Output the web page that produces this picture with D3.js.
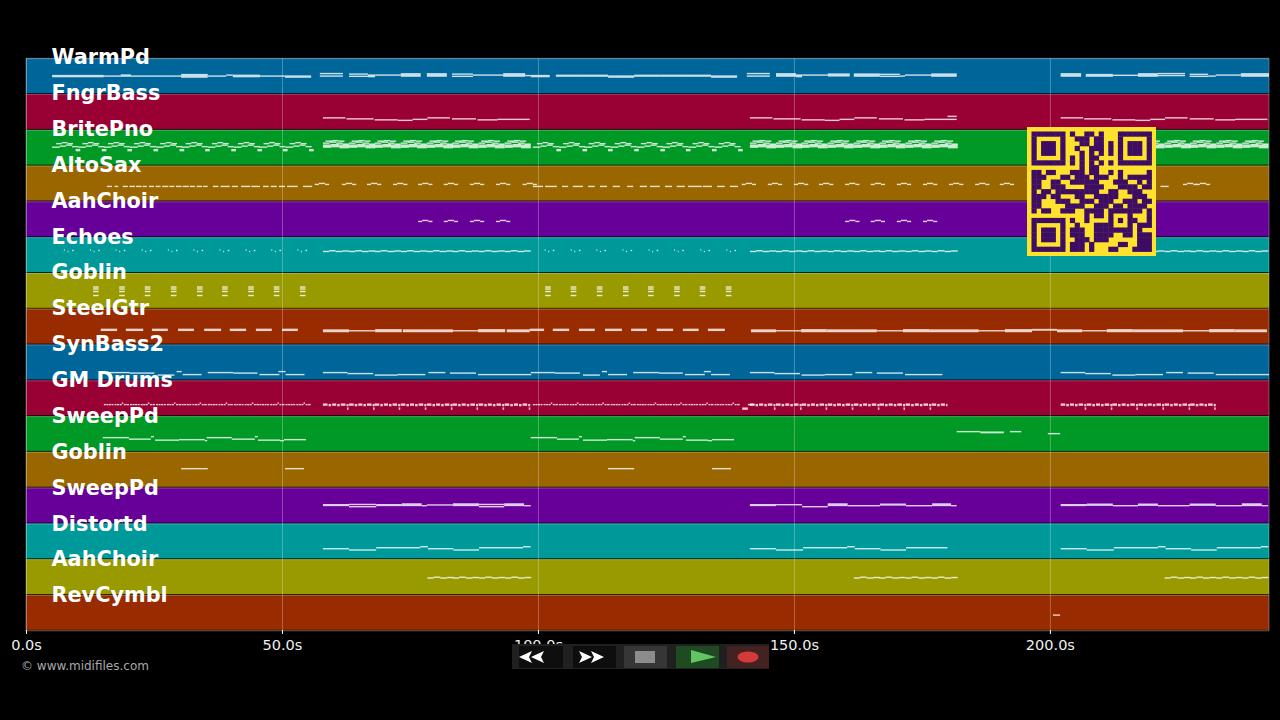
<!DOCTYPE html>
<html>
<head>
<meta charset="utf-8">
<script src="https://cdn.jsdelivr.net/npm/d3@7"></script>
<style>
	html, body { margin: 0; background: #000; overflow: hidden; }
	text { font-family: "DejaVu Sans", sans-serif; }
</style>
</head>
<body>
<svg id="chart" width="1280" height="720"></svg>
<script type="text/javascript">

var trackNames = ['WarmPd', 'FngrBass', 'BritePno', 'AltoSax', 'AahChoir', 'Echoes', 'Goblin', 'SteelGtr',
	'SynBass2', 'GM Drums', 'SweepPd', 'Goblin', 'SweepPd', 'Distortd', 'AahChoir', 'RevCymbl']
var bandColors = ['#006699', '#990033', '#009926', '#996600', '#660099', '#009999', '#999900', '#992b00']
var tickValues = [0, 50, 100, 150, 200]
var tickLabels = ['0.0s', '50.0s', '100.0s', '150.0s', '200.0s']
var endTime = 242.8

// bar starts in seconds, one list per section of the song
var bars5 = [5.1, 10.2, 15.2, 20.3, 25.4, 30.4, 35.5, 40.6, 45.6, 50.7]
var bars58 = [58, 63.1, 68.1, 73.2, 78.3, 83.3, 88.4, 93.5]
var bars99 = [99, 104.1, 109.1, 114.2, 119.3, 124.3, 129.4, 134.5]
var bars141 = [141.4, 146.5, 151.5, 156.6, 161.7, 166.7, 171.8, 176.9]
var bars202 = [202.1, 207.2, 212.2, 217.3, 222.4, 227.4, 232.5, 237.6]

// a note is [start, end, low pitch, high pitch]; pitch counts up from the bottom of the band
var warmPd = [
	[5.1, 15.2, 17.5, 18.5], [15.2, 25.4, 18], [18.5, 20.5, 19], [25.4, 30.3, 18], [30.3, 35.5, 17, 19.5], [35.5, 39.1, 18],
	[39.1, 40.4, 19], [40.4, 45.7, 17.5, 18.75], [45.7, 50.6, 18], [50.6, 55.7, 17, 18],
	[57.4, 61.9, 18], [57.4, 61.9, 20.5], [63.1, 66.8, 17.75], [63.1, 66.8, 20], [66.8, 68.2, 17.5, 19], [68.2, 73.2, 19],
	[73.2, 77.1, 18, 20.25], [78.3, 82.2, 18, 20.25], [83.2, 87.3, 17.75], [83.2, 87.3, 20], [87.3, 93.2, 19],
	[93.2, 97.5, 18, 20.25], [97.5, 98.6, 18.5], [98.6, 102.3, 17.5, 18.5], [103.5, 108.8, 18, 18.75], [108.8, 113.7, 18, 18.75],
	[113.7, 118.8, 17, 18], [118.8, 123.8, 18, 18.75], [123.8, 128.9, 18, 18.75], [128.9, 133.8, 18, 18.75], [133.8, 138.9, 17, 18],
	[140.8, 145.3, 18], [140.8, 145.3, 20.5], [146.5, 150.4, 18, 20.25], [150.4, 151.6, 17.5, 19], [151.6, 156.6, 19],
	[156.6, 160.9, 18.25, 20], [161.7, 166.8, 18, 20], [166.8, 170.7, 17.75], [166.8, 170.7, 19.75], [170.7, 171.7, 18],
	[171.7, 176.8, 19], [176.8, 181.8, 18, 20],
	[202.1, 206.1, 18, 20.25], [207, 212.3, 18, 19.5], [212.3, 217.2, 18.75], [217.2, 221.1, 18, 20.25], [221.1, 226.4, 18.5], [221.1, 226.4, 20.5],
	[227.3, 230.9, 17.75], [227.3, 230.9, 19.75], [230.9, 232.4, 18], [232.4, 237.3, 19], [237.3, 242.8, 18, 20.25]
]

var fngrBassPhrase = [[0, 4.4, 12], [4.6, 9.9, 11], [10.1, 14.6, 10], [14.6, 17.5, 9.5], [17.5, 20.4, 10.5], [20.4, 24.8, 12],
	[25.2, 29.9, 11], [30.2, 34.1, 10], [34.1, 40.4, 10.5]]
var fngrBassFill = [[180, 181.8, 13.5]]

var britePnoSparse = [[0, 1.5, 18.5], [1.5, 2.7, 19.5], [2.7, 3.9, 20.5], [3.9, 5.1, 19], [0.8, 1.9, 22], [1.9, 3, 23], [3, 4.1, 22], [4.6, 5.5, 15, 16]]
var britePnoDense = [[0, 1.6, 18.5, 20.5], [1.6, 3.2, 19, 21], [3.2, 5.1, 18, 20.5], [0, 1.3, 22.5], [1.3, 2.6, 23.5], [2.6, 3.9, 22.5], [3.9, 5.1, 21.5],
	[0.5, 1.8, 24.5], [1.8, 3, 25], [3, 4.2, 24.5]]

var altoSaxDashes = [
	[15.8, 16.8], [17.3, 18], [18.9, 19.9], [20.2, 21.3], [21.5, 22.6], [22.8, 23.6], [24, 25], [25.3, 26.3], [26.6, 27.8], [28, 29],
	[29.3, 30.4], [30.6, 31.8], [32, 33], [33.3, 34.4], [34.6, 35.5], [36.5, 37.6], [38, 39.8], [40.2, 41.4], [42, 43.8], [44, 45.7],
	[46.3, 47.4], [47.8, 49], [49.4, 50.6], [51, 53.1], [54.1, 55.9],
	[99, 101], [101.4, 103.7], [104.7, 105.9], [106.8, 108.8], [109.8, 111.1], [112.1, 113.5], [114.6, 116], [117.4, 118.6],
	[119.9, 121.3], [121.9, 123.8], [124.8, 126.2], [127.1, 128.7], [129.3, 132], [132.2, 134], [135, 136.5], [137.5, 139.1],
	[221.6, 223.2]
]
var altoSaxDashPitch = 15
var altoSaxArch = [[0, 0.8, 17], [0.8, 2, 18], [2, 2.8, 17]]
var altoSaxArchStarts = [56.4, 61.7, 66.6, 71.7, 76.6, 81.6, 86.7, 91.8, 97, 139.8, 144.9, 150, 154.9, 160, 165, 170.1, 175.2, 180.3, 185.4, 190.2, 226, 228.5]

var aahChoirArch = [[0, 0.8, 15.75], [0.8, 2, 16.75], [2, 2.8, 15.75]]
var aahChoirArchStarts = [76.6, 81.6, 86.7, 91.8, 160, 165, 170.1, 175.2]

var echoesWave = [[0, 1.2, 21.5], [1.2, 2.5, 22.2], [2.5, 3.8, 21.5], [3.8, 5.1, 22]]
var echoesDots = [[2.3, 2.5, 23], [3, 3.2, 21.5], [3.9, 4.2, 22.5]]

var goblinStab = [[0, 1.1, 21.75], [0, 1.1, 19.75], [0, 1.1, 17.25], [0, 1.1, 13.25]]
var goblinStabStarts = [13.1, 18.2, 23.2, 28.3, 33.4, 38.3, 43.4, 48.4, 53.5, 101.4, 106.4, 111.5, 116.6, 121.5, 126.6, 131.6, 136.7]

var steelGtr = [
	[14.6, 17.8, 14.2, 15.2], [19.5, 22.9, 14.2, 15.2], [24.6, 27.7, 14.2, 15.2], [29.7, 32.8, 14.2, 15.2], [34.8, 38.1, 14.2, 15.2],
	[39.8, 43, 14.2, 15.2], [44.9, 48, 14.2, 15.2], [50, 53.1, 14.2, 15.2],
	[98.4, 101.2, 14.2, 15.2], [102.9, 106.1, 14.2, 15.2], [108, 111.1, 14.2, 15.2], [113.1, 116.4, 14.2, 15.2], [118.2, 121.3, 14.2, 15.2],
	[123.2, 126.4, 14.2, 15.2], [128.3, 131.4, 14.2, 15.2], [133.2, 136.5, 14.2, 15.2],
	[58, 63.1, 13, 14.5], [63.1, 68.2, 13.75], [68.2, 73.4, 13, 14.75], [73.6, 83.4, 13, 14.5], [83.4, 88.3, 13.75], [88.3, 93.6, 13, 14.75], [93.9, 98.4, 13, 14.5],
	[141.6, 146.5, 13, 14.5], [146.5, 151.4, 13.75], [151.4, 156.4, 13, 14.75], [156.4, 166.2, 13, 14.5], [166.2, 171.3, 13.75], [171.3, 176.4, 13, 14.75],
	[176.4, 186.1, 13, 14.5], [186.1, 191.2, 13.75], [191.2, 196.5, 13, 14.75], [196.5, 201.4, 14.5, 15], [201.4, 206.3, 13, 14.5], [206.3, 211.1, 13.75],
	[211.1, 216.2, 13, 14.75], [216.2, 226, 13, 14.5], [226, 231.1, 13.75], [231.1, 236.1, 13, 14.75], [236.1, 242.4, 13, 14.5]
]

var synBassLong = [[0, 4.8, 7.75], [4.8, 9.8, 6.75], [10.1, 14.6, 5.25], [14.6, 20, 5.75], [20.6, 23.9, 7.75], [24.8, 29.9, 7.25], [30.3, 34.6, 5.75], [34.6, 40.7, 5.75]]
var synBassBumps = [[0, 4.7, 7.75], [4.7, 9.6, 7.25], [10.2, 13.5, 5.25], [13.9, 14.9, 8.75], [15.1, 18.8, 5.75],
	[20, 25, 7.75], [25, 29.7, 7.25], [30.1, 34, 5.75], [33.8, 35.2, 8.75], [35.2, 38.9, 5.75]]

var drumThin = [[0, 0.4, 11.5], [0.5, 0.9, 11.5], [1, 1.4, 11.5], [1.5, 1.9, 11.5], [2.1, 2.5, 11.5], [2.6, 3, 11.5], [3.1, 3.5, 11.5], [3.5, 3.8, 13], [3.9, 4.3, 11.5], [4.4, 4.9, 11.5]]
var drumThick = [[0, 0.9, 11, 12], [1.1, 1.6, 10.5, 11.5], [1.8, 2.6, 11, 12], [2.8, 3.3, 10.5, 11.5], [3.5, 4.4, 11, 12], [4.6, 5, 10.5, 11.5], [4.7, 5, 7, 8]]
var drumFill = [[141, 142.3, 11.5], [139.9, 141, 7, 8]]

var sweepPhrase = [[0, 5.1, 14.25], [5.1, 9.4, 12.75], [9.4, 10, 15.25], [10.2, 14.9, 11.75], [14.9, 19.9, 12.25], [19.9, 20.4, 11.25],
	[20.3, 25.2, 14.25], [25.2, 29.7, 12.75], [29.7, 30.3, 15.25], [30.3, 34.6, 11.75], [34.6, 35.4, 11.25], [35.4, 39.7, 12.25]]
var sweepLate = [[181.8, 186.4, 20.25], [186.4, 191, 19.25, 19.75], [192.2, 194.4, 20.25], [199.6, 202, 18.25]]

var goblinLow = [[30.3, 35.5, 19], [50.6, 54.3, 19], [113.7, 118.8, 19], [134, 137.7, 19]]

var sweepPad = [
	[58, 63.1, 18, 18.75], [63.1, 68.4, 19], [63.1, 68.4, 16.75], [68.4, 73.4, 18, 18.75], [73.4, 77.3, 18, 19.5], [77.3, 78.3, 17.75],
	[78.3, 83.4, 18.5], [83.4, 88.5, 18, 19.5], [88.5, 93.4, 19], [88.5, 93.4, 16.75], [93.4, 97.3, 18, 19.5], [97.3, 98.6, 17.75],
	[141.4, 146.5, 18, 18.75], [146.5, 151.6, 18.75], [151.6, 156.6, 16.75], [156.6, 160.5, 18, 19.5], [160.5, 166.8, 17.75],
	[166.8, 171.9, 18.5, 19.25], [171.9, 177, 17.75], [177, 180.7, 18, 19.5], [180.7, 181.8, 17.75],
	[202.1, 207.2, 18, 18.75], [207.2, 212.3, 18.25, 19.25], [212.3, 217.2, 17.75], [217.2, 221.1, 18.25, 19.25], [221.1, 227.3, 17.75],
	[227.3, 232.4, 18.25, 19.25], [232.4, 237.5, 17.75], [237.5, 241.4, 18, 19.5], [241.4, 242.6, 17.75]
]

var distortPhrase = [[0, 5.1, 10.5], [5.1, 10.4, 9.25], [10.4, 19, 11.5], [19, 20.5, 12.5], [20.5, 25.5, 10.5], [25.5, 30.5, 9.25], [30.5, 39.1, 11.5], [39.1, 40.6, 12.5]]

var choirWave = [[0, 1.2, 17], [1.2, 2.5, 17.8], [2.5, 3.8, 17], [3.8, 5.1, 17.5]]
var choirWaveStarts = [78.4, 83.4, 88.5, 93.6, 161.7, 166.7, 171.8, 176.9, 222.4, 227.4, 232.5, 237.6]

var revCymbl = [[200.6, 202, 15.7]]

// rows of the QR block drawn over the roll, 1 = dark module
var qrRows = [
	'1111111010011010001111111',
	'1000001001110110001000001',
	'1011101000110110101011101',
	'1011101001001110101011101',
	'1011101000101010101011101',
	'1000001010101100001000001',
	'1111111010101010101111111',
	'0000000000101100000000000',
	'1101100011101100101000001',
	'1110001101110111001011111',
	'1100110011111100011100101',
	'1100111000011110001111011',
	'1011011111111100110011100',
	'1110110001100111110001110',
	'1100011100111011100111011',
	'1100000111100111011011110',
	'1011001110011110111111101',
	'0000000000010110100010001',
	'1111111010010000101011001',
	'1000001001000111100010111',
	'1011101011100111111110100',
	'1011101011100111100110111',
	'1011101001110111000000111',
	'1000001011101000001100111',
	'1111111011101000110001111'
]

// repeat a phrase at each start, cutting it off at the until time
function place(phrase, starts, until) {
	until = until === undefined ? Infinity : until
	return starts.flatMap(function (s) {
		return phrase
			.filter(function (n) { return s + n[0] < until })
			.map(function (n) { return [s + n[0], Math.min(s + n[1], until), n[2], n[3]] })
	})
}

var trackNotes = [
	warmPd,
	place(fngrBassPhrase, [58, 141.4, 202.1]).concat(fngrBassFill),
	place(britePnoSparse, bars5.concat(bars99)).concat(place(britePnoDense, bars58.concat(bars141, bars202))),
	altoSaxDashes.map(function (d) { return [d[0], d[1], altoSaxDashPitch] }).concat(place(altoSaxArch, altoSaxArchStarts)),
	place(aahChoirArch, aahChoirArchStarts),
	place(echoesDots, bars5.concat(bars99)).concat(place(echoesWave, bars58.concat(bars141, bars202))),
	place(goblinStab, goblinStabStarts),
	steelGtr,
	place(synBassBumps, [15.5, 98.6]).concat(place(synBassLong, [58, 202.1]), place(synBassLong, [141.4], 179)),
	place(drumThin, bars5.slice(2).concat(bars99)).concat(place(drumThick, bars58.concat(bars141), 180), place(drumThick, bars202.slice(0, 6)), drumFill),
	place(sweepPhrase, [15, 98.6]).concat(sweepLate),
	goblinLow,
	sweepPad,
	place(distortPhrase, [58]).concat(place(distortPhrase, [141.4], 180), place(distortPhrase, [202.1])),
	place(choirWave, choirWaveStarts),
	revCymbl
]

var svg = d3.select('#chart')

var plotTop = 58.3, plotBottom = 630.8

var x = d3.scaleLinear().domain([0, endTime]).range([26, 1269])
var band = d3.scaleBand().domain(d3.range(trackNames.length)).range([plotTop, plotBottom])
var labelY = d3.scalePoint().domain(d3.range(trackNames.length)).range([57, 595])
var pitch = d3.scaleLinear().domain([0, band.bandwidth()]).range([band.bandwidth(), 0])
var qrScale = d3.scaleBand().domain(d3.range(25)).range([0, 120])

var tracks = svg.selectAll('g.track')
	.data(trackNames)
	.enter()
	.append('g')
	.attr('class', 'track')
	.attr('transform', function (d, i) { return 'translate(0,' + band(i) + ')' })

tracks.append('rect')
	.attr('x', x(0))
	.attr('width', x(endTime) - x(0))
	.attr('height', band.bandwidth())
	.style('fill', function (d, i) { return bandColors[i % bandColors.length] })

// dark seam between bands, with a soft lighter edge under it
tracks.append('line')
	.attr('x1', x(0)).attr('x2', x(endTime))
	.attr('y1', band.bandwidth() - 0.5).attr('y2', band.bandwidth() - 0.5)
	.style('stroke', '#000').style('stroke-opacity', 0.75)
tracks.append('line')
	.attr('x1', x(0)).attr('x2', x(endTime))
	.attr('y1', 0.5).attr('y2', 0.5)
	.style('stroke', '#fff').style('stroke-opacity', 0.22)

// grid
svg.selectAll('line.grid')
	.data(tickValues)
	.enter()
	.append('line')
	.attr('class', 'grid')
	.attr('x1', function (d) { return x(d) + 0.5 })
	.attr('x2', function (d) { return x(d) + 0.5 })
	.attr('y1', plotTop).attr('y2', plotBottom)
	.style('stroke', '#fff').style('stroke-opacity', 0.28)

svg.append('rect')
	.attr('x', x(0)).attr('y', plotTop)
	.attr('width', x(endTime) - x(0)).attr('height', plotBottom - plotTop)
	.style('fill', 'none').style('stroke', '#fff').style('stroke-opacity', 0.3)

tracks.selectAll('rect.note')
	.data(function (d, i) { return trackNotes[i] })
	.enter()
	.append('rect')
	.attr('class', 'note')
	.attr('x', function (n) { return x(n[0]) })
	.attr('width', function (n) { return x(n[1]) - x(n[0]) })
	.attr('y', function (n) { return pitch(n[3] === undefined ? n[2] : n[3]) - 0.7 })
	.attr('height', function (n) { return (n[3] === undefined ? 0 : pitch(n[2]) - pitch(n[3])) + 1.4 })
	.style('fill', '#fff')
	.style('fill-opacity', 0.8)

svg.selectAll('text.label')
	.data(trackNames)
	.enter()
	.append('text')
	.attr('class', 'label')
	.text(function (d) { return d })
	.attr('x', 51.5)
	.attr('y', function (d, i) { return labelY(i) })
	.attr('dy', '0.35em')
	.style('font-size', '20.8px')
	.style('font-weight', 'bold')
	.style('fill', '#fff')

// axis
var axis = d3.axisBottom(x)
	.tickValues(tickValues)
	.tickFormat(function (d, i) { return tickLabels[i] })
	.tickSize(4)
	.tickPadding(6)

var axisG = svg.append('g').attr('transform', 'translate(0,630)').call(axis)
axisG.select('.domain').remove()
axisG.selectAll('line').style('stroke', '#fff')
axisG.selectAll('text').style('font-size', '14.5px').style('fill', '#f0f0f0')

svg.append('text')
	.text('© www.midifiles.com')
	.attr('x', 21).attr('y', 670)
	.style('font-size', '12px')
	.style('fill', '#a8a8a8')

// QR block
var qr = svg.append('g').attr('transform', 'translate(1027,127)')
qr.append('rect').attr('width', 129).attr('height', 129).style('fill', '#ffe22e')
qr.append('g')
	.attr('transform', 'translate(4.5,4.5)')
	.selectAll('rect')
	.data(qrRows.flatMap(function (row, r) {
		return row.split('').map(function (v, c) { return { r: r, c: c, v: v } })
	}).filter(function (d) { return d.v === '1' }))
	.enter()
	.append('rect')
	.attr('x', function (d) { return qrScale(d.c) })
	.attr('y', function (d) { return qrScale(d.r) })
	.attr('width', qrScale.bandwidth() + 0.4)
	.attr('height', qrScale.bandwidth() + 0.4)
	.style('fill', '#3d0c63')

// player controls
var controls = svg.append('g')
controls.append('rect').attr('x', 512).attr('y', 644).attr('width', 257).attr('height', 25).style('fill', '#202020')
var buttons = [[519, 44, '#0e0e0e'], [573, 43, '#0e0e0e'], [624, 43, '#363636'], [676, 43, '#1f4a22'], [727, 42, '#452222']]
controls.selectAll('rect.btn')
	.data(buttons)
	.enter()
	.append('rect')
	.attr('class', 'btn')
	.attr('x', function (d) { return d[0] })
	.attr('y', 646)
	.attr('width', function (d) { return d[1] })
	.attr('height', 22)
	.style('fill', function (d) { return d[2] })

function chevron(tipX, dir) {
	return 'M' + tipX + ',657 L' + (tipX + 13 * dir) + ',651 L' + (tipX + 10 * dir) + ',657 L' + (tipX + 13 * dir) + ',663 Z'
}
;[[519, 1], [531, 1], [604, -1], [592, -1]].forEach(function (c) {
	controls.append('path').attr('d', chevron(c[0], c[1])).style('fill', '#fff')
})
controls.append('rect').attr('x', 635).attr('y', 651).attr('width', 20).attr('height', 12).style('fill', '#8c8c8c')
controls.append('path').attr('d', 'M691,650 L716,657 L691,663 Z').style('fill', '#62c763')
controls.append('ellipse').attr('cx', 748).attr('cy', 657).attr('rx', 10.5).attr('ry', 5.5).style('fill', '#d43a3a')

</script>
</body>
</html>
